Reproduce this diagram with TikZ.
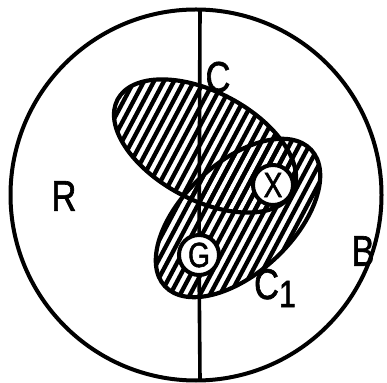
\documentclass[tikz,border=0pt]{standalone}
\usepackage{fontspec}
\setsansfont{Liberation Sans}[FakeStretch=0.8,FakeBold=1.5]
\usetikzlibrary{shapes.geometric}

% hatch lines, clipped later by each region
\newcommand{\hatchlines}{%
  \begin{scope}[shift={(230,200)},rotate=-28]
    \foreach \k in {-20,...,20}
      \draw[line width=4.3pt] (\k*8.8,-170) -- (\k*8.8,170);
  \end{scope}}

\begin{document}
\begin{tikzpicture}[x=1pt,y=1pt,
    lbl/.style={font=\sffamily\fontsize{43}{45}\selectfont},
    region/.style={ellipse, draw, line width=4.2pt, inner sep=0pt},
    spot/.style={circle, draw, fill=white, line width=4pt, inner sep=0pt, minimum size=40pt,
                 font=\sffamily\fontsize{35}{36}\selectfont}]
  \useasboundingbox (0,0) rectangle (387,382);

  % Hatching
  \begin{scope}
    \clip[rotate around={-28:(205,236)}] (205,236) ellipse [x radius=99, y radius=54];
    \hatchlines
  \end{scope}
  \begin{scope}
    \clip[rotate around={43:(238,164)}] (238,164) ellipse [x radius=100, y radius=55];
    \hatchlines
  \end{scope}

  % Nodes
  \node (disc) at (196,187) [circle, draw, line width=4pt, inner sep=0pt, minimum size=371pt] {};
  \coordinate (top) at (200,372);
  \coordinate (bot) at (200,2);
  \node (C)  at (205,236) [region, minimum width=198pt, minimum height=108pt, rotate=-28] {};
  \node (C1) at (238,164) [region, minimum width=200pt, minimum height=110pt, rotate=43] {};
  \node (X) at (273,197) [spot] {X};
  \node (G) at (199,127) [spot] {G};
  \node (labC)  at (218,305) [lbl] {C};
  \node (labR)  at (64,186)  [lbl] {R};
  \node (labB)  at (363,131) [lbl] {B};
  \node (labC1) at (275,94)  [lbl] {C\raisebox{-8pt}{\fontsize{38}{40}\selectfont 1}};

  % Edges
  \draw[line width=3.6pt] (top) -- (G);
  \draw[line width=3.6pt] (G) -- (bot);
\end{tikzpicture}
\end{document}
